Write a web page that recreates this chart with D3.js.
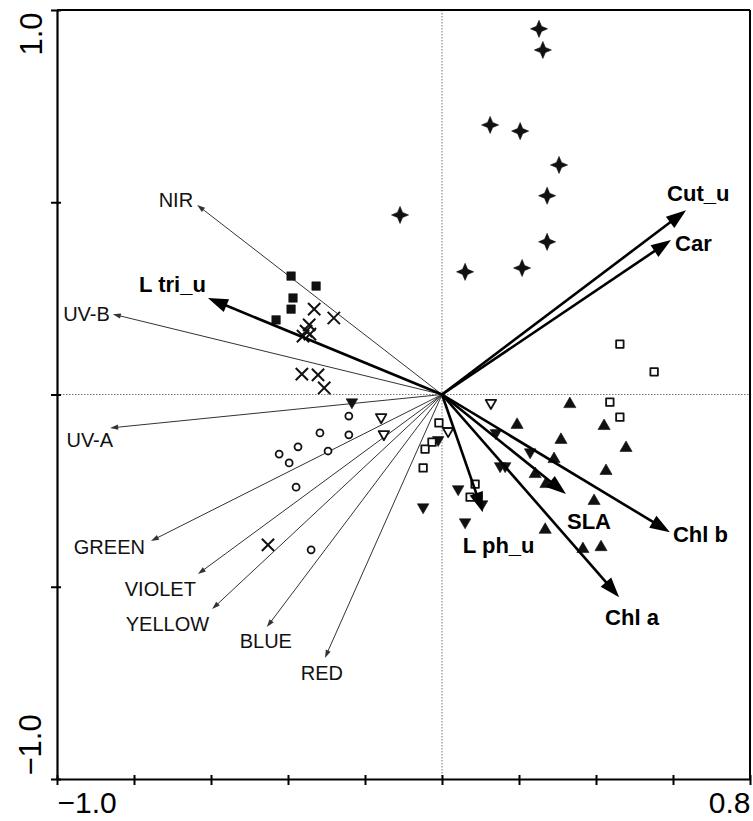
<!DOCTYPE html>
<html>
<head>
<meta charset="utf-8">
<script src="https://cdn.jsdelivr.net/npm/d3@7"></script>
<style>
  body { margin: 0; background: #fff; }
  svg { display: block; }
</style>
</head>
<body>
<script>
// ---- Axis ticks ----
const xTickValues = [-1.0, -0.8, -0.6, -0.4, -0.2, 0, 0.2, 0.4, 0.6, 0.8];
const yTickValues = [-1.0, -0.5, 0, 0.5, 1.0];

// ---- Environmental variables (thin arrows) ----
const envNames = ["NIR", "UV-B", "UV-A", "GREEN", "VIOLET", "YELLOW", "BLUE", "RED"];
const envX = [-0.636, -0.855, -0.862, -0.756, -0.634, -0.597, -0.455, -0.304];
const envY = [0.493, 0.209, -0.087, -0.381, -0.467, -0.558, -0.605, -0.685];

// ---- Response variables (bold arrows) ----
const respNames = ["L tri_u", "Cut_u", "Car", "SLA", "Chl b", "Chl a", "L ph_u"];
const respX = [-0.608, 0.634, 0.595, 0.322, 0.592, 0.460, 0.106];
const respY = [0.251, 0.479, 0.402, -0.259, -0.358, -0.527, -0.306];

// ---- Sample scores, one array pair per group ----
const starX = [0.252, 0.262, 0.125, 0.203, 0.304, 0.273, 0.273, 0.208, 0.060, -0.109];
const starY = [0.951, 0.896, 0.701, 0.685, 0.597, 0.517, 0.397, 0.329, 0.319, 0.467];

const fSquareX = [-0.392, -0.327, -0.387, -0.392, -0.431];
const fSquareY = [0.308, 0.282, 0.251, 0.222, 0.194];

const crossX = [-0.332, -0.281, -0.345, -0.353, -0.361, -0.343, -0.364, -0.322, -0.306, -0.452];
const crossY = [0.222, 0.199, 0.181, 0.165, 0.152, 0.157, 0.053, 0.051, 0.017, -0.391];

const circleX = [-0.242, -0.317, -0.242, -0.374, -0.296, -0.423, -0.397, -0.379, -0.340];
const circleY = [-0.056, -0.100, -0.105, -0.136, -0.147, -0.155, -0.178, -0.241, -0.404];

const oDownX = [-0.158, -0.151, 0.127, 0.016];
const oDownY = [-0.059, -0.103, -0.022, -0.095];

const fDownX = [-0.234, -0.010, -0.049, 0.140, 0.229, 0.151, 0.164, 0.042, 0.060, 0.104];
const fDownY = [-0.020, -0.118, -0.293, -0.100, -0.150, -0.186, -0.186, -0.246, -0.332, -0.285];

const oSquareX = [0.462, 0.551, 0.436, 0.462, -0.008, -0.026, -0.044, -0.049, 0.086, 0.073];
const oSquareY = [0.131, 0.059, -0.020, -0.059, -0.074, -0.124, -0.142, -0.191, -0.233, -0.267];

const fTriX = [0.332, 0.195, 0.421, 0.309, 0.478, 0.426, 0.291, 0.242, 0.270, 0.395, 0.268, 0.366, 0.413];
const fTriY = [-0.025, -0.079, -0.082, -0.118, -0.139, -0.199, -0.168, -0.207, -0.233, -0.277, -0.352, -0.402, -0.397];

// ---- Label layout (pixel offsets from arrow tips) ----
const envLabelLayout = {
  "NIR":    { dx: -4, dy: 2,  anchor: "end" },
  "UV-B":   { dx: -3, dy: 7,  anchor: "end" },
  "UV-A":   { dx: 3,  dy: 19, anchor: "end" },
  "GREEN":  { dx: -6, dy: 13, anchor: "end" },
  "VIOLET": { dx: -2, dy: 22, anchor: "end" },
  "YELLOW": { dx: -3, dy: 22, anchor: "end" },
  "BLUE":   { dx: -1, dy: 21, anchor: "middle" },
  "RED":    { dx: -3, dy: 22, anchor: "middle" }
};
const respLabelLayout = {
  "L tri_u": { dx: -2,  dy: -6, anchor: "end" },
  "Cut_u":   { dx: -19, dy: -9, anchor: "start" },
  "Car":     { dx: 4,   dy: 11, anchor: "start" },
  "SLA":     { dx: 1,   dy: 35, anchor: "start" },
  "Chl b":   { dx: 3,   dy: 10, anchor: "start" },
  "Chl a":   { dx: -14, dy: 28, anchor: "start" },
  "L ph_u":  { dx: -20, dy: 41, anchor: "start" }
};

const W = 753, H = 821;
const FONT = "'Liberation Sans', Arial, sans-serif";

const svg = d3.select("body").append("svg")
  .attr("width", W).attr("height", H)
  .style("font-family", FONT);

const x = d3.scaleLinear().domain([-1.0, 0.8]).range([57, 750]);
const y = d3.scaleLinear().domain([-1.0, 1.0]).range([779, 10]);

// ---- Dotted zero lines ----
svg.append("line")
  .attr("x1", x(0)).attr("x2", x(0)).attr("y1", y(1)).attr("y2", y(-1))
  .attr("stroke", "#777").attr("stroke-width", 1).attr("stroke-dasharray", "1.5,1.5");
svg.append("line")
  .attr("x1", x(-1)).attr("x2", x(0.8)).attr("y1", y(0)).attr("y2", y(0))
  .attr("stroke", "#777").attr("stroke-width", 1).attr("stroke-dasharray", "1.5,1.5");

// arrowhead polygon pointing from (x1,y1) to (x2,y2)
function headPoints(x1, y1, x2, y2, len, half) {
  const a = Math.atan2(y2 - y1, x2 - x1);
  const bx = x2 - len * Math.cos(a), by = y2 - len * Math.sin(a);
  const px = -Math.sin(a) * half, py = Math.cos(a) * half;
  return [[x2, y2], [bx + px, by + py], [bx - px, by - py]].map(p => p.join(",")).join(" ");
}

function drawArrows(names, xs, ys, opts) {
  const data = names.map((n, i) => ({ name: n, x: xs[i], y: ys[i] }));
  const g = svg.append("g");
  const ox = x(0), oy = y(0);
  data.forEach(d => {
    const tx = x(d.x), ty = y(d.y);
    const a = Math.atan2(ty - oy, tx - ox);
    const back = opts.len * 0.6;
    g.append("line")
      .attr("x1", ox).attr("y1", oy)
      .attr("x2", tx - back * Math.cos(a)).attr("y2", ty - back * Math.sin(a))
      .attr("stroke", opts.color).attr("stroke-width", opts.width);
    g.append("polygon")
      .attr("points", headPoints(ox, oy, tx, ty, opts.len, opts.half))
      .attr("fill", opts.color);
  });
  return data;
}

// ---- Thin arrows for environmental variables ----
const envData = drawArrows(envNames, envX, envY, { color: "#333", width: 1, len: 8, half: 2.6 });

// ---- Sample symbols ----
const star4 = {
  draw(ctx, size) {
    const R = Math.sqrt(size) * 0.62, r = R * 0.42;
    for (let k = 0; k < 8; k++) {
      const ang = -Math.PI / 2 + k * Math.PI / 4;
      const rad = k % 2 === 0 ? R : r;
      const px = rad * Math.cos(ang), py = rad * Math.sin(ang);
      if (k === 0) ctx.moveTo(px, py); else ctx.lineTo(px, py);
    }
    ctx.closePath();
  }
};

function drawPoints(xs, ys, type, size, style, rotate) {
  const sym = d3.symbol().type(type).size(size);
  svg.append("g").selectAll("path")
    .data(xs.map((v, i) => [v, ys[i]]))
    .join("path")
    .attr("d", sym)
    .attr("transform", d => `translate(${x(d[0])},${y(d[1])})` + (rotate ? " rotate(180)" : ""))
    .attr("fill", style.fill)
    .attr("stroke", style.stroke)
    .attr("stroke-width", style.sw)
    .attr("stroke-linejoin", "round");
}

const filled = { fill: "#111", stroke: "#111", sw: 0.6 };
const hollow = { fill: "#fff", stroke: "#111", sw: 1.8 };

drawPoints(starX, starY, star4, 190, filled, false);
drawPoints(fSquareX, fSquareY, d3.symbolSquare, 72, filled, false);
drawPoints(crossX, crossY, d3.symbolX, 100, { fill: "none", stroke: "#111", sw: 2 }, false);
drawPoints(circleX, circleY, d3.symbolCircle, 38, hollow, false);
drawPoints(oDownX, oDownY, d3.symbolTriangle, 48, hollow, true);
drawPoints(fDownX, fDownY, d3.symbolTriangle, 58, filled, true);
drawPoints(oSquareX, oSquareY, d3.symbolSquare, 56, hollow, false);
drawPoints(fTriX, fTriY, d3.symbolTriangle, 64, filled, false);

// ---- Bold arrows for response variables ----
const respData = drawArrows(respNames, respX, respY, { color: "#000", width: 2.6, len: 20, half: 7 });

// ---- Arrow labels ----
svg.append("g").selectAll("text")
  .data(envData)
  .join("text")
  .attr("x", d => x(d.x) + envLabelLayout[d.name].dx)
  .attr("y", d => y(d.y) + envLabelLayout[d.name].dy)
  .attr("text-anchor", d => envLabelLayout[d.name].anchor)
  .attr("font-size", 20)
  .attr("fill", "#111")
  .text(d => d.name);

svg.append("g").selectAll("text")
  .data(respData)
  .join("text")
  .attr("x", d => x(d.x) + respLabelLayout[d.name].dx)
  .attr("y", d => y(d.y) + respLabelLayout[d.name].dy)
  .attr("text-anchor", d => respLabelLayout[d.name].anchor)
  .attr("font-size", 22)
  .attr("font-weight", "bold")
  .attr("fill", "#000")
  .text(d => d.name);

// ---- Frame ----
svg.append("line").attr("x1", x(-1)).attr("x2", x(0.8)).attr("y1", y(1)).attr("y2", y(1))
  .attr("stroke", "#000").attr("stroke-width", 2.2);
svg.append("line").attr("x1", x(0.8)).attr("x2", x(0.8)).attr("y1", y(1)).attr("y2", y(-1))
  .attr("stroke", "#000").attr("stroke-width", 2);

// ---- Axes ----
const lastX = xTickValues.length - 1;
const xAxis = d3.axisBottom(x)
  .tickValues(xTickValues)
  .tickSize(5)
  .tickSizeOuter(0)
  .tickFormat((d, i) => (i === 0 || i === lastX) ? d3.format(".1f")(d) : "");

const gx = svg.append("g").attr("transform", `translate(0,${y(-1)})`).call(xAxis);
gx.select(".domain").attr("stroke", "#000").attr("stroke-width", 2.2);
gx.selectAll(".tick line").attr("stroke", "#000").attr("stroke-width", 2).attr("y1", -4).attr("y2", 6);
gx.selectAll(".tick text")
  .attr("font-family", FONT).attr("font-size", 30).attr("fill", "#000")
  .attr("dy", null).attr("y", 34)
  .attr("text-anchor", (d, i) => i === 0 ? "start" : (i === lastX ? "end" : "middle"));

const lastY = yTickValues.length - 1;
const yAxis = d3.axisLeft(y)
  .tickValues(yTickValues)
  .tickSize(5)
  .tickSizeOuter(0)
  .tickFormat((d, i) => (i === 0 || i === lastY) ? d3.format(".1f")(d) : "");

const gy = svg.append("g").attr("transform", `translate(${x(-1)},0)`).call(yAxis);
gy.select(".domain").attr("stroke", "#000").attr("stroke-width", 2.2);
gy.selectAll(".tick line").attr("stroke", "#000").attr("stroke-width", 2).attr("x1", -6).attr("x2", 4);
gy.selectAll(".tick text")
  .attr("font-family", FONT).attr("font-size", 31).attr("fill", "#000")
  .attr("dy", null).attr("x", null)
  .attr("text-anchor", (d, i) => i === 0 ? "start" : "end")
  .attr("transform", (d, i) => i === 0 ? "translate(-16,-4) rotate(-90)" : "translate(-15,2) rotate(-90)");
</script>
</body>
</html>
